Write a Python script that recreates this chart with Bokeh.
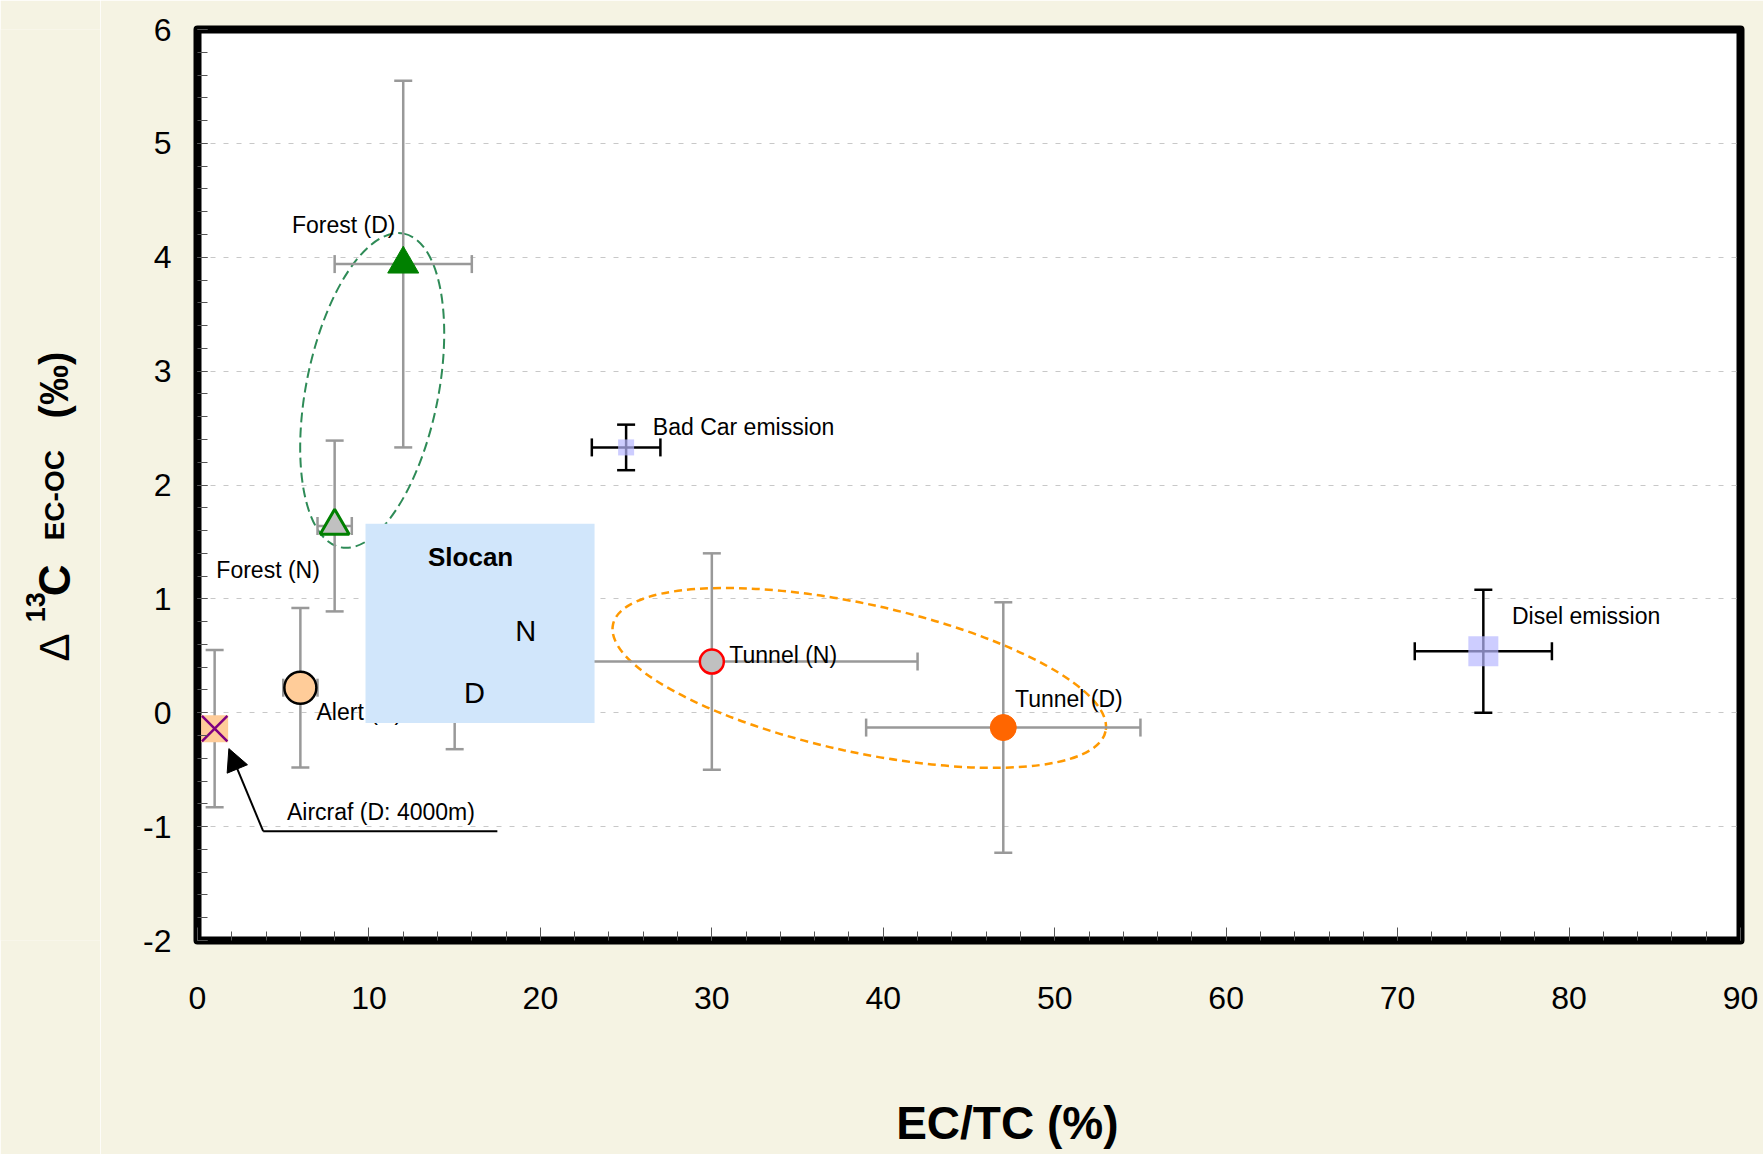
import numpy as np
from bokeh.plotting import figure
from bokeh.layouts import row
from bokeh.models import (Label, BoxAnnotation, Arrow, NormalHead, SingleIntervalTicker, Range1d,
                          PrintfTickFormatter)
from bokeh.core.properties import value
from bokeh.embed import file_html
from bokeh.resources import INLINE

FONT = "Liberation Sans"
CREAM = "#F5F3E3"

# ---------------- data ----------------
names = ["Forest (D)", "Forest (N)", "Alert (D)", "Aircraf (D: 4000m)", "Slocan (N)",
         "Slocan (D)", "Tunnel (N)", "Tunnel (D)", "Bad Car emission", "Disel emission"]
ec_tc = [12, 8, 6, 1, 10.6, 15, 30, 47, 25, 75]
d13c = [3.94, 1.64, 0.22, -0.14, 0.8, 0.3, 0.45, -0.13, 2.33, 0.54]
ec_tc_err = [4, 1, 1, 0, 0.4, 1, 12, 8, 2, 4]
d13c_err = [1.61, 0.75, 0.70, 0.69, 0.6, 0.62, 0.95, 1.1, 0.2, 0.54]

x_ticks = [0, 10, 20, 30, 40, 50, 60, 70, 80, 90]
y_ticks = [-2, -1, 0, 1, 2, 3, 4, 5, 6]

# point labels (text, anchor x, anchor y)
label_text = ["Forest (D)", "Forest (N)", "Alert (D)", "Aircraf (D: 4000m)", "Bad Car emission",
              "Tunnel (N)", "Tunnel (D)", "Disel emission"]
label_x = [5.51, 1.10, 6.94, 5.22, 26.56, 31.02, 47.68, 76.67]
label_y = [4.28, 1.25, 0.01, -0.87, 2.51, 0.51, 0.12, 0.85]

idx = {n: i for i, n in enumerate(names)}

def sel(keys):
    ii = [idx[k] for k in keys]
    x = np.array([ec_tc[i] for i in ii], float)
    y = np.array([d13c[i] for i in ii], float)
    xe = np.array([ec_tc_err[i] for i in ii], float)
    ye = np.array([d13c_err[i] for i in ii], float)
    return x, y, xe, ye

# ---------------- y-title strip (shares the main y scale) ----------------
TW, H = 100, 1154
yt = figure(width=TW, height=H, x_range=Range1d(0, TW), y_range=Range1d(-2, 6),
            output_backend="svg", toolbar_location=None, min_border=0)
yt.axis.visible = False
yt.grid.visible = False
yt.outline_line_color = None
yt.background_fill_color = CREAM
yt.border_fill_color = CREAM
rot = np.pi / 2
ytitle = [("\u0394", 54, 0.451, "42px", "normal"),
          ("13", 35, 0.794, "27px", "bold"),
          ("C", 54, 1.022, "44px", "bold"),
          ("EC-OC", 54, 1.514, "28px", "bold"),
          ("(\u2030)", 53, 2.585, "40px", "bold")]
for t, lx, ly, fs, st in ytitle:
    yt.text(x=[lx], y=[ly], text=[t], angle=rot, text_font=value(FONT), text_font_size=fs,
            text_font_style=st, text_align="left", text_baseline="alphabetic", text_color="black")

# ---------------- main figure ----------------
p = figure(width=1763 - TW, height=H, x_range=Range1d(0, 90), y_range=Range1d(-2, 6),
           output_backend="svg", toolbar_location=None,
           min_border_left=197 - TW, min_border_right=23, min_border_top=29, min_border_bottom=214)

p.background_fill_color = "white"
p.border_fill_color = CREAM
p.outline_line_color = "black"
p.outline_line_width = 8
p.outline_line_join = "round"

p.xgrid.visible = False
p.ygrid.grid_line_color = "#C8C8C8"
p.ygrid.grid_line_dash = "5 8"
p.ygrid.grid_line_width = 1

p.xaxis.ticker = SingleIntervalTicker(interval=10, num_minor_ticks=5)
p.yaxis.ticker = SingleIntervalTicker(interval=1, num_minor_ticks=5)
p.yaxis.formatter = PrintfTickFormatter(format="%d")
for ax in (p.xaxis, p.yaxis):
    ax.axis_line_color = None
    ax.major_tick_out = 0
    ax.minor_tick_out = 0
    ax.major_tick_line_color = "#555555"
    ax.minor_tick_line_color = "#555555"
    ax.major_label_text_font = FONT
    ax.major_label_text_font_size = "32px"
    ax.major_label_text_color = "black"
p.xaxis.major_tick_in = 13
p.xaxis.minor_tick_in = 9
p.yaxis.major_tick_in = 10
p.yaxis.minor_tick_in = 10
p.xaxis.major_label_standoff = 46
p.yaxis.major_label_standoff = 26

# x title (non-breaking spaces nudge it right of the frame centre, as in the original)
p.xaxis.axis_label = "\u00a0" * 6 + "EC/TC (%)"
p.xaxis.axis_label_text_font = FONT
p.xaxis.axis_label_text_font_size = "46px"
p.xaxis.axis_label_text_font_style = "bold"
p.xaxis.axis_label_text_color = "black"
p.xaxis.axis_label_standoff = 85

# ---------------- ellipses ----------------
p.ellipse(x=[10.19], y=[2.83], width=[320], height=[132], angle=[np.deg2rad(78.6)],
          width_units="screen", height_units="screen",
          fill_color=None, line_color="#2E8B57", line_width=2, line_dash="10 5")
p.ellipse(x=[38.6], y=[0.306], width=[504], height=[148], angle=[np.deg2rad(-12.25)],
          width_units="screen", height_units="screen",
          fill_color=None, line_color="#FF9900", line_width=2.5, line_dash="8 5")

# ---------------- error bars ----------------
def errbars(keys, color):
    x, y, xe, ye = sel(keys)
    p.segment(x0=x, y0=y - ye, x1=x, y1=y + ye, line_color=color, line_width=2.5)
    p.scatter(np.concatenate([x, x]), np.concatenate([y - ye, y + ye]), marker="dash",
              size=18, line_color=color, line_width=2.5)
    m = xe > 0
    p.segment(x0=(x - xe)[m], y0=y[m], x1=(x + xe)[m], y1=y[m], line_color=color, line_width=2.5)
    p.scatter(np.concatenate([(x - xe)[m], (x + xe)[m]]), np.concatenate([y[m], y[m]]),
              marker="dash", angle=np.pi / 2, size=18, line_color=color, line_width=2.5)

errbars(["Forest (D)", "Forest (N)", "Alert (D)", "Aircraf (D: 4000m)", "Slocan (N)",
         "Slocan (D)", "Tunnel (N)", "Tunnel (D)"], "#999999")
errbars(["Bad Car emission", "Disel emission"], "black")

# ---------------- markers ----------------
x, y, _, _ = sel(["Forest (D)"])
p.scatter(x, y, marker="triangle", size=31, fill_color="#008000", line_color="#008000", line_width=1)
x, y, _, _ = sel(["Forest (N)"])
p.scatter(x, y, marker="triangle", size=29, fill_color="#C0C0C0", line_color="#008000", line_width=3)
x, y, _, _ = sel(["Alert (D)"])
p.scatter(x, y, marker="circle", size=32, fill_color="#FFCC99", line_color="black", line_width=2.5)
x, y, _, _ = sel(["Aircraf (D: 4000m)"])
p.scatter(x, y, marker="square", size=27, fill_color="#FFCC99", line_color=None)
p.scatter(x, y, marker="x", size=36, line_color="#800080", line_width=2.5)
x, y, _, _ = sel(["Slocan (N)", "Slocan (D)"])
p.scatter(x, y, marker="circle", size=24, fill_color="#C0C0C0", line_color="#A0A0A0", line_width=2)
x, y, _, _ = sel(["Tunnel (N)"])
p.scatter(x, y, marker="circle", size=24, fill_color="#C0C0C0", line_color="#FF0000", line_width=2.5)
x, y, _, _ = sel(["Tunnel (D)"])
p.scatter(x, y, marker="circle", size=26, fill_color="#FF6600", line_color="#FF6600", line_width=1)
x, y, _, _ = sel(["Bad Car emission"])
p.scatter(x, y, marker="square", size=16, fill_color="#B8B8FF", fill_alpha=0.7, line_color=None)
x, y, _, _ = sel(["Disel emission"])
p.scatter(x, y, marker="square", size=30, fill_color="#B8B8FF", fill_alpha=0.7, line_color=None)

# ---------------- point labels ----------------
p.text(x=label_x, y=label_y, text=label_text, text_font=value(FONT), text_font_size="23px",
       text_align="left", text_baseline="middle", text_color="black")

# aircraft arrow + underline
p.line([3.83, 17.49], [-1.04, -1.04], line_color="black", line_width=2)
p.add_layout(Arrow(end=NormalHead(size=22, fill_color="black", line_color="black"),
                   x_start=3.83, y_start=-1.04, x_end=1.83, y_end=-0.315,
                   line_color="black", line_width=2))

# ---------------- Slocan box ----------------
p.add_layout(BoxAnnotation(left=9.8, right=23.16, bottom=-0.09, top=1.66,
                           fill_color="#D1E6FB", fill_alpha=1.0, line_color=None))
p.add_layout(Label(x=15.93, y=1.37, text="Slocan", text_font=FONT, text_font_size="26px",
                   text_font_style="bold", text_align="center", text_baseline="middle",
                   text_color="black"))
p.add_layout(Label(x=19.14, y=0.72, text="N", text_font=FONT, text_font_size="29px",
                   text_align="center", text_baseline="middle", text_color="black"))
p.add_layout(Label(x=16.16, y=0.17, text="D", text_font=FONT, text_font_size="29px",
                   text_align="center", text_baseline="middle", text_color="black"))

layout = row(yt, p, spacing=0)
open("out.html", "w").write(file_html(layout, INLINE))
